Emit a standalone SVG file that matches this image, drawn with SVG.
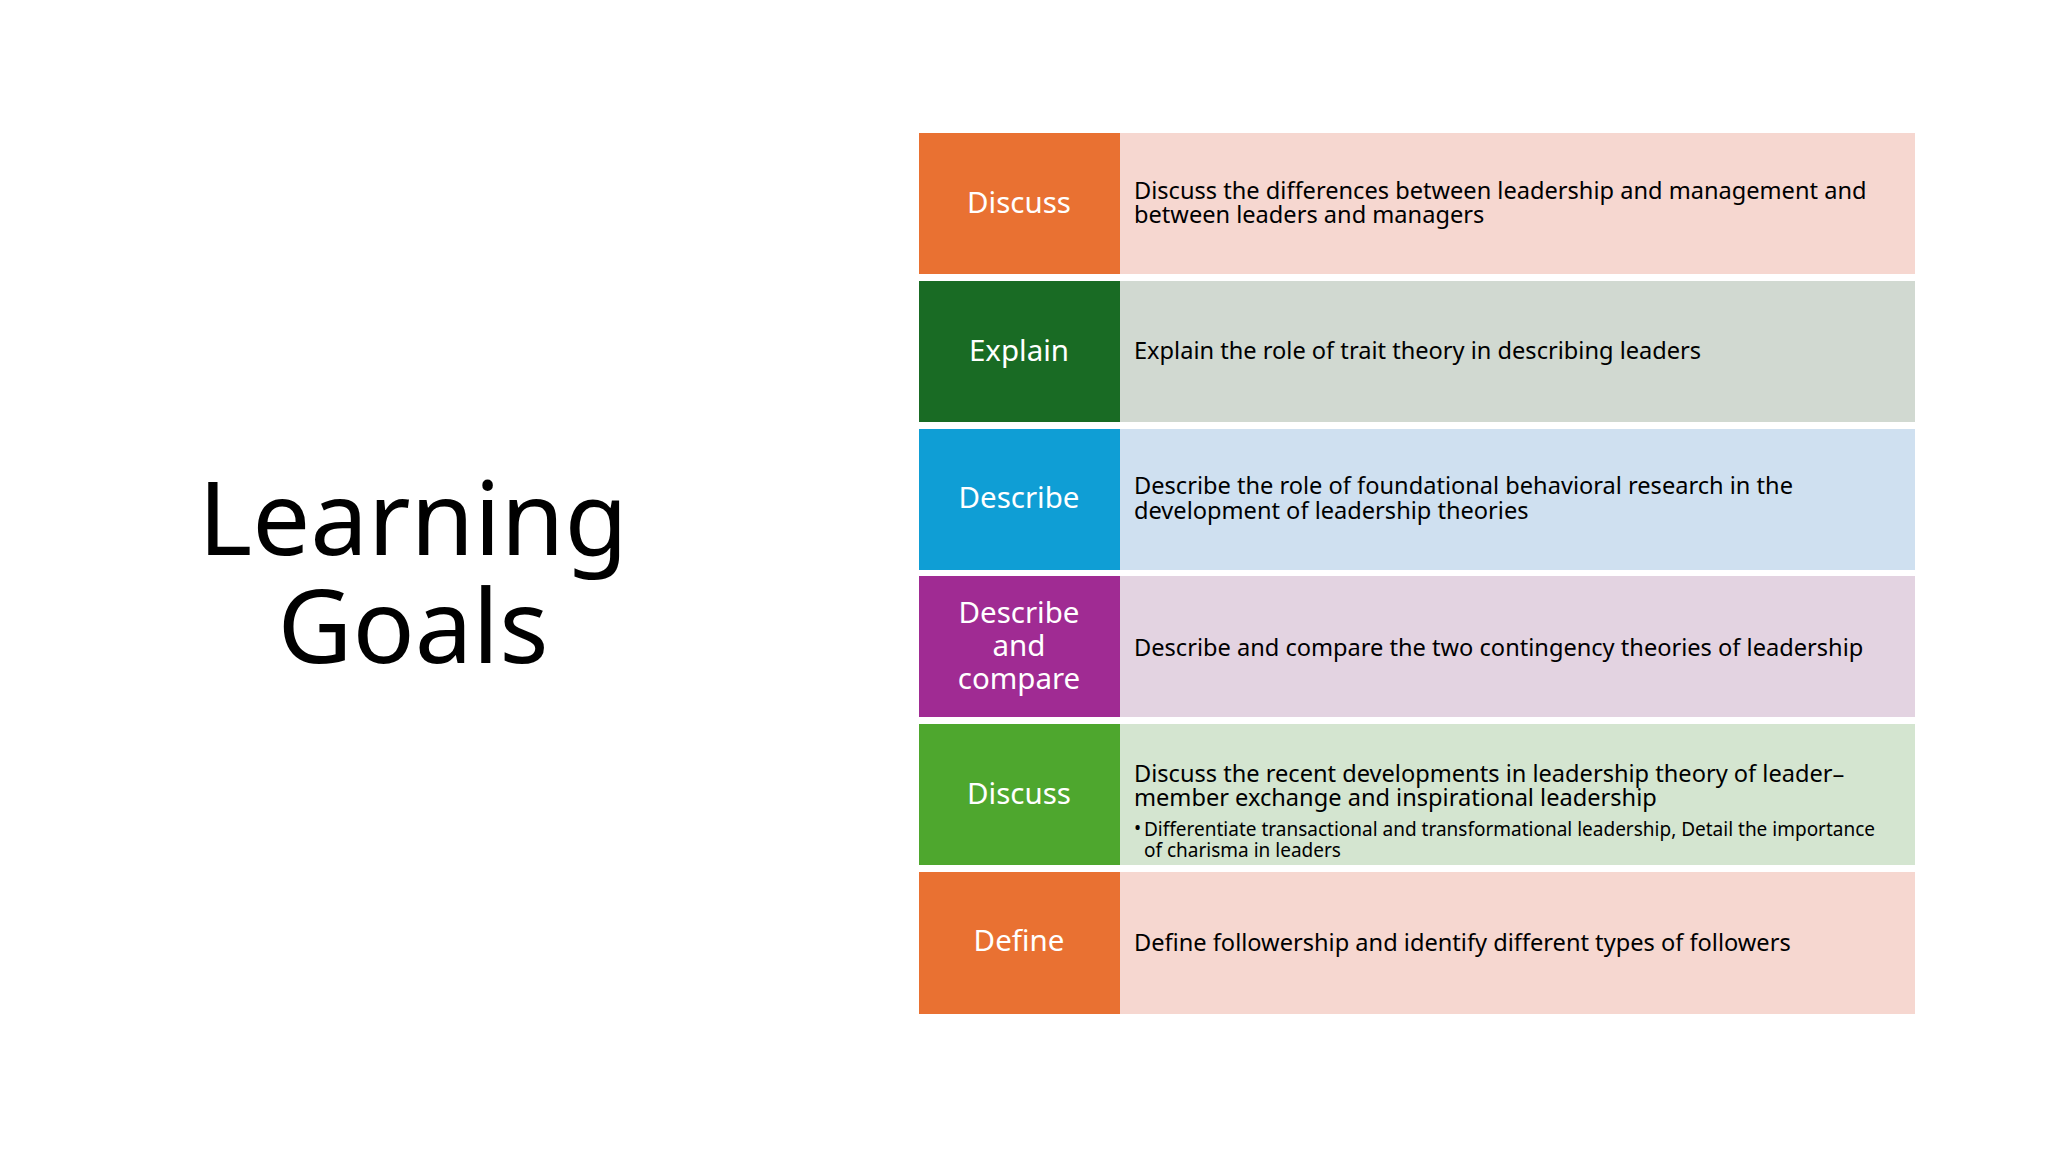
<svg xmlns="http://www.w3.org/2000/svg" width="2048" height="1152" viewBox="0 0 2048 1152">
<style>
text{font-family:"Noto Sans","Open Sans",sans-serif}
.lab{fill:#fff;font-size:29.5px;text-anchor:middle}
.d{fill:#000;font-size:23.6px}
.s{fill:#000;font-size:19px}
.t{fill:#000;font-size:103px;text-anchor:middle}
</style>
<rect width="2048" height="1152" fill="#fff"/>
<text class="t" x="413" y="555">Learning</text>
<text class="t" x="413" y="663">Goals</text>
<g id="row1"><rect x="919" y="133" width="201" height="141" fill="#E97132"/><rect x="1120" y="133" width="795" height="141" fill="#F6D7D0"/>
<text class="lab" x="1019" y="213">Discuss</text>
<text class="d" x="1134" y="199">Discuss the differences between leadership and management and</text><text class="d" x="1134" y="223">between leaders and managers</text></g>
<g id="row2"><rect x="919" y="281" width="201" height="141" fill="#196B24"/><rect x="1120" y="281" width="795" height="141" fill="#D1D9D1"/>
<text class="lab" x="1019" y="361">Explain</text>
<text class="d" x="1134" y="359">Explain the role of trait theory in describing leaders</text></g>
<g id="row3"><rect x="919" y="429" width="201" height="141" fill="#0F9ED5"/><rect x="1120" y="429" width="795" height="141" fill="#CFE0F0"/>
<text class="lab" x="1019" y="508">Describe</text>
<text class="d" x="1134" y="494">Describe the role of foundational behavioral research in the</text><text class="d" x="1134" y="519">development of leadership theories</text></g>
<g id="row4"><rect x="919" y="576" width="201" height="141" fill="#A02B93"/><rect x="1120" y="576" width="795" height="141" fill="#E3D3E1"/>
<text class="lab" x="1019" y="623">Describe</text><text class="lab" x="1019" y="656">and</text><text class="lab" x="1019" y="689">compare</text>
<text class="d" x="1134" y="656">Describe and compare the two contingency theories of leadership</text></g>
<g id="row5"><rect x="919" y="724" width="201" height="141" fill="#4EA72E"/><rect x="1120" y="724" width="795" height="141" fill="#D4E5D0"/>
<text class="lab" x="1019" y="804">Discuss</text>
<text class="d" x="1134" y="782">Discuss the recent developments in leadership theory of leader–</text><text class="d" x="1134" y="806">member exchange and inspirational leadership</text>
<text class="s" x="1134" y="835">•</text><text class="s" x="1144" y="836">Differentiate transactional and transformational leadership, Detail the importance</text><text class="s" x="1144" y="857">of charisma in leaders</text></g>
<g id="row6"><rect x="919" y="872" width="201" height="142" fill="#E97132"/><rect x="1120" y="872" width="795" height="142" fill="#F6D7D0"/>
<text class="lab" x="1019" y="951">Define</text>
<text class="d" x="1134" y="951">Define followership and identify different types of followers</text></g>
<g id="connectors"/>
</svg>
